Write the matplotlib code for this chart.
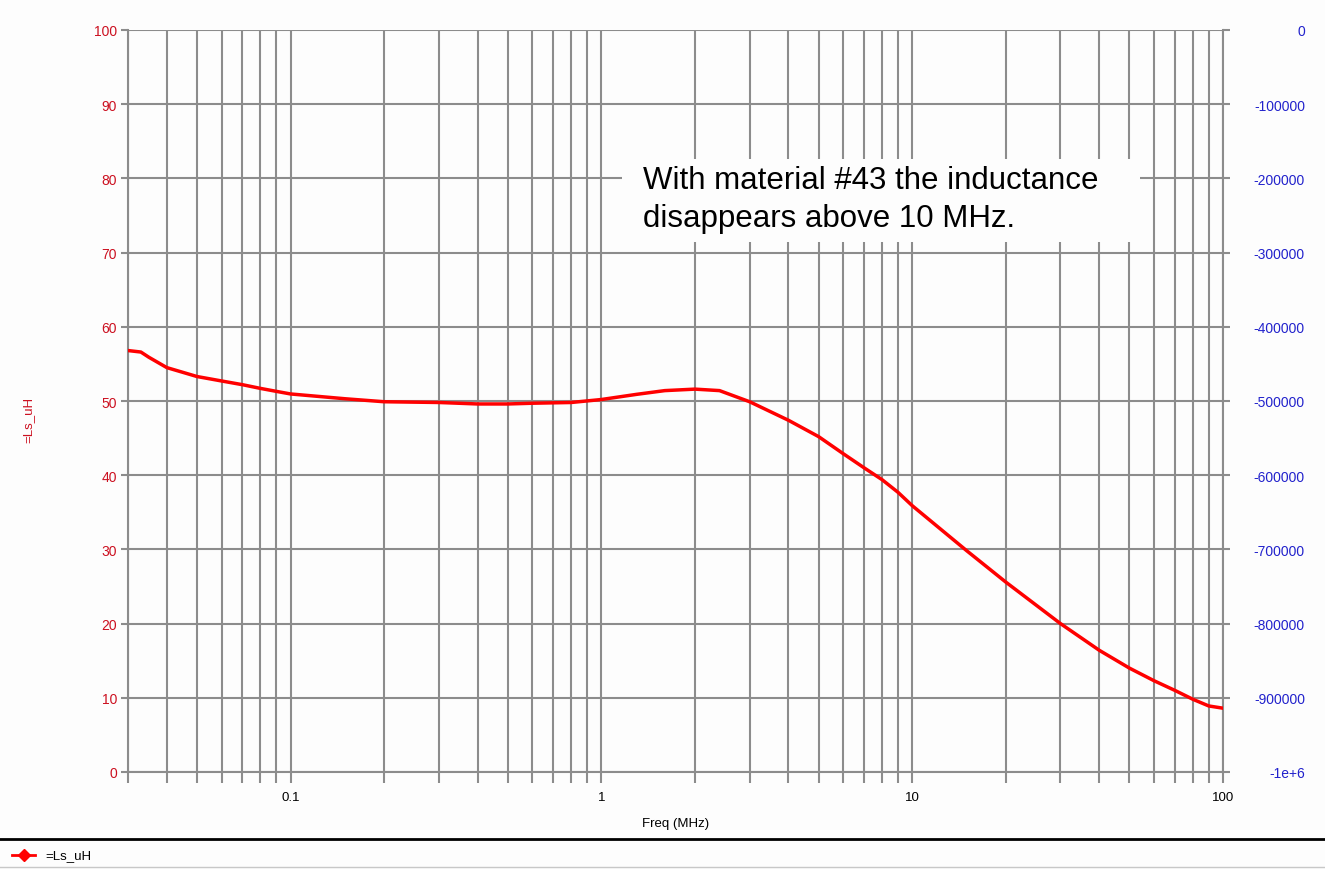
import numpy as np
import matplotlib.pyplot as plt
from matplotlib.lines import Line2D
from matplotlib.patches import Rectangle
from matplotlib.ticker import LogLocator, NullFormatter, FixedLocator

plt.rcParams['font.family'] = ['Liberation Sans', 'DejaVu Sans']

# values
freq_mhz = [0.03, 0.033, 0.035, 0.04, 0.05, 0.06, 0.07, 0.08, 0.09, 0.1, 0.15, 0.2, 0.3,
            0.4, 0.5, 0.6, 0.8, 1.0, 1.3, 1.6, 2.0, 2.4, 3.0, 4.0, 5.0, 6.0, 7.0,
            8.0, 9.0, 10.0, 15.0, 20.0, 30.0, 40.0, 50.0, 60.0, 70.0, 80.0, 90.0, 100.0]
ls_uh = [56.8, 56.6, 55.9, 54.5, 53.3, 52.7, 52.2, 51.7, 51.3, 50.95, 50.3, 49.9, 49.8,
         49.6, 49.6, 49.7, 49.8, 50.2, 50.9, 51.4, 51.6, 51.4, 49.9, 47.4, 45.2, 42.9, 41.0,
         39.4, 37.7, 35.9, 29.8, 25.6, 20.0, 16.4, 14.0, 12.3, 11.0, 9.8, 8.9, 8.6]

left_ticks = list(range(0, 101, 10))
right_ticks = list(range(-1000000, 1, 100000))
right_labels = ['-1e+6'] + [str(v) for v in right_ticks[1:]]
x_major = [0.1, 1, 10, 100]
x_labels = ['0.1', '1', '10', '100']
note = 'With material #43 the inductance\ndisappears above 10 MHz.'

red = '#ff0000'
lab_red = '#cc1020'
lab_blue = '#2222cc'
grid = '#8c8c8c'
bg = '#fdfdfd'

W, H = 1325, 870


def fx(px):
    return px / W


def fy(py):
    return 1 - py / H


fig = plt.figure(figsize=(13.25, 8.7), dpi=100)
fig.patch.set_facecolor(bg)
ax = fig.add_axes([fx(128), fy(773), (1223 - 128) / W, (773 - 31) / H])
ax.set_facecolor(bg)

ax.plot(freq_mhz, ls_uh, color=red, lw=2.5, zorder=3)
ax.set_xscale('log')
ax.set_xlim(0.03, 100)
ax.set_ylim(0, 100)

ax.xaxis.set_major_locator(FixedLocator(x_major))
ax.set_xticklabels(x_labels)
ax.xaxis.set_minor_locator(LogLocator(base=10, subs=np.arange(2, 10)))
ax.xaxis.set_minor_formatter(NullFormatter())
ax.set_yticks(left_ticks)

ax.grid(True, which='both', axis='x', color=grid, lw=1.5)
ax.grid(True, which='major', axis='y', color=grid, lw=1.5)
ax.tick_params(axis='x', which='both', length=8, width=1.5, color=grid,
               labelsize=9.5, labelcolor='black', pad=6)
ax.tick_params(axis='y', length=5, width=1.5, color=grid, labelsize=10,
               labelcolor=lab_red, pad=3)
for s in ax.spines.values():
    s.set_color(grid)
    s.set_linewidth(1.5)
ax.spines['top'].set_visible(False)

ax.set_xlabel('Freq (MHz)', fontsize=9.5, labelpad=10)
fig.text(fx(28), fy(420), '=Ls_uH', fontsize=9.5, color=lab_red,
         rotation=90, ha='center', va='center')

ax2 = ax.twinx()
ax2.set_ylim(-1000000, 0)
ax2.set_yticks(right_ticks)
ax2.set_yticklabels(right_labels, ha='right')
ax2.tick_params(axis='y', length=5, width=1.5, color=grid, labelsize=10,
                labelcolor=lab_blue, pad=54)
for s in ax2.spines.values():
    s.set_visible(False)

# annotation box
fig.add_artist(Rectangle((fx(622), fy(243)), (1140 - 622) / W, (243 - 160) / H,
                         transform=fig.transFigure, facecolor=bg, edgecolor='none',
                         zorder=4))
fig.text(fx(643), fy(200), note, fontsize=22.5, color='black', linespacing=1.32,
         va='center', ha='left', zorder=5)

# legend strip at the bottom
fig.add_artist(Line2D([0.0, 1.0], [fy(840)] * 2, color='black', lw=2))
fig.add_artist(Line2D([0.0, 1.0], [fy(868)] * 2, color='#c8c8c8', lw=1))
fig.add_artist(Line2D([fx(12), fx(35)], [fy(856)] * 2, color=red, lw=2))
fig.add_artist(Line2D([fx(23.5)], [fy(856)], color=red, marker='D',
                      markersize=6, lw=0))
fig.text(fx(45), fy(856), '=Ls_uH', fontsize=9.5, va='center', ha='left')

fig.savefig('out.png', dpi=100, facecolor=fig.get_facecolor())
